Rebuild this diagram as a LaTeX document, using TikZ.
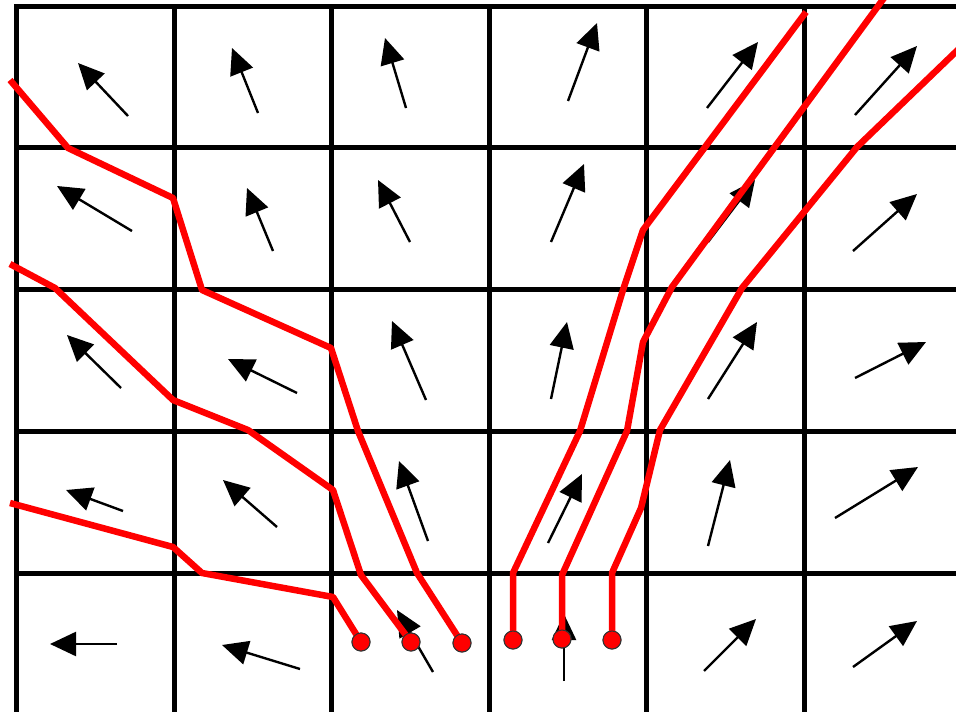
\documentclass[tikz,border=0pt]{standalone}
\usetikzlibrary{arrows.meta}

\begin{document}
\begin{tikzpicture}[
      x=1pt, y=-1pt,
      gridline/.style={line width=5pt, line cap=rect, black},
      field/.style={line width=2.4pt, -{Triangle[length=26pt, width=24pt]}},
      stream/.style={line width=6.5pt, red, line join=round},
      seed/.style={circle, fill=red, draw=black!80, line width=1pt,
        minimum size=18pt, inner sep=0pt}
    ]
      \useasboundingbox (0,0) rectangle (956,712);
      \fill[white] (0,0) rectangle (956,712);
      \begin{scope}
      \clip (0,0) rectangle (956,712);

      \foreach \x in {16,174,331,489,646,804}
        \draw[gridline] (\x,6) -- (\x,720);
      \foreach \y in {6,147,289,431,573}
        \draw[gridline] (16,\y) -- (970,\y);

      \foreach \tx/\ty/\hx/\hy in {
          128/116/78/63, 258/113/232/48, 406/108/385/38,
          568/101/597/23, 707/108/758/42, 855/115/917/46,
          132/231/57/186, 273/251/247/188, 410/242/378/180,
          551/242/584/164, 708/242/755/180, 853/251/917/194,
          121/388/67/335, 297/393/228/359, 426/400/392/321,
          551/399/567/322, 708/399/757/322, 855/378/926/342,
          123/511/66/490, 277/527/223/480, 428/541/399/461,
          548/543/582/474, 708/546/730/460, 835/518/918/467,
          117/644/50/644, 300/669/222/645, 433/672/397/610,
          564/681/564/614, 704/671/756/619, 853/667/917/621}
        \draw[field] (\tx,\ty) -- (\hx,\hy);

      \node[seed] (s1) at (361,642) {};
      \node[seed] (s2) at (411,642) {};
      \node[seed] (s3) at (462,643) {};
      \node[seed] (s4) at (513,640) {};
      \node[seed] (s5) at (562,639) {};
      \node[seed] (s6) at (612,640) {};

      \coordinate (e1) at (10,503);
      \coordinate (e2) at (10,264);
      \coordinate (e3) at (10,80);
      \coordinate (e4) at (806,12);
      \coordinate (e5) at (884,-2);
      \coordinate (e6) at (966,42);

      \draw[stream] (s1.center) -- (333,597) -- (202,573) -- (173,547) -- (e1);
      \draw[stream] (s2.center) -- (361,575) -- (333,490) -- (248,430)
        -- (173,400) -- (55,288) -- (e2);
      \draw[stream] (s3.center) -- (417,573) -- (358,431) -- (331,348)
        -- (202,290) -- (173,198) -- (68,148) -- (e3);
      \draw[stream] (s4.center) -- (513,573) -- (580,431) -- (623,290)
        -- (643,230) -- (e4);
      \draw[stream] (s5.center) -- (562,575) -- (627,431) -- (643,342)
        -- (672,287) -- (e5);
      \draw[stream] (s6.center) -- (612,573) -- (641,508) -- (660,430)
        -- (742,288) -- (857,147) -- (e6);

      \foreach \s in {s1,s2,s3,s4,s5,s6}
        \node[seed] at (\s) {};
      \end{scope}
    \end{tikzpicture}
\end{document}
